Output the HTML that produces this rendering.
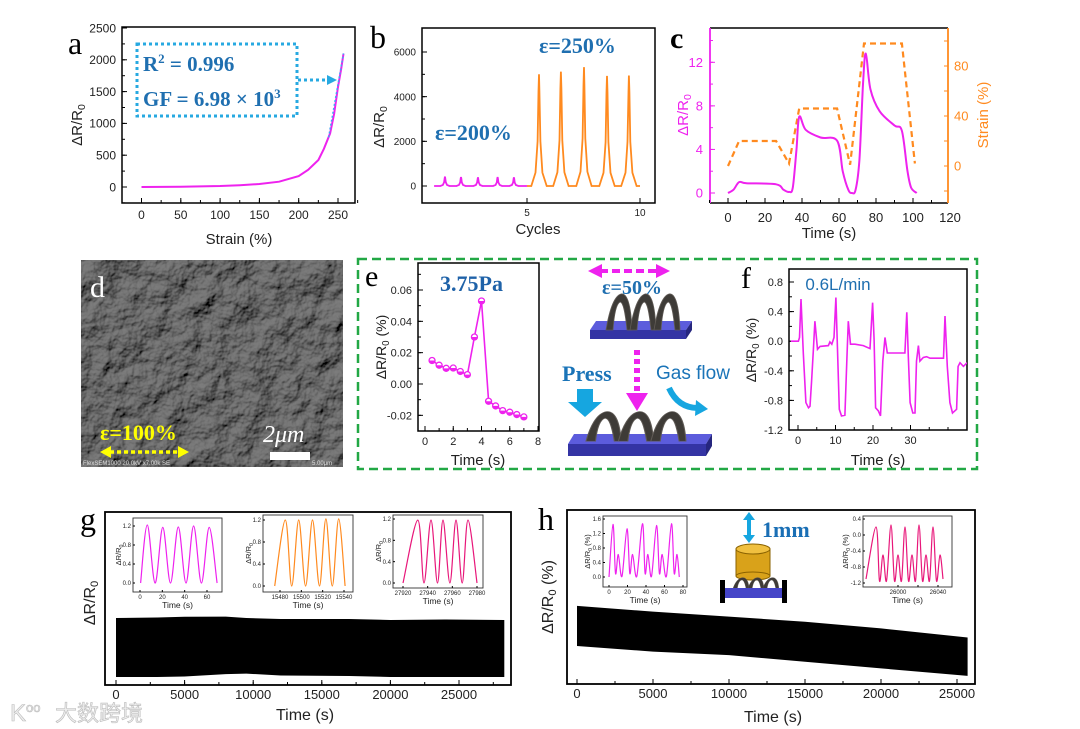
<!DOCTYPE html>
<html><head><meta charset="utf-8"><style>
html,body{margin:0;padding:0;background:#fff;}
svg{display:block;font-family:"Liberation Sans",sans-serif;}
.serif{font-family:"Liberation Serif",serif;}
</style></head><body>
<svg id="fig" width="1080" height="729" viewBox="0 0 1080 729" xmlns="http://www.w3.org/2000/svg">
<defs>
<filter id="sem" x="0" y="0" width="100%" height="100%">
<feTurbulence type="fractalNoise" baseFrequency="0.045" numOctaves="4" seed="3" result="n"/>
<feDiffuseLighting in="n" surfaceScale="7" lighting-color="#7c7c7c" result="l"><feDistantLight azimuth="235" elevation="45"/></feDiffuseLighting>
<feComposite in="l" in2="SourceGraphic" operator="in"/>
</filter>
<g id="flakes">
<path d="M0,38 C3,20 8,4 15,2 C21,1 25,12 26,38 L21,38 C19,18 17,10 14,10 C10,12 8,24 7,38 Z" fill="#3e3b37" stroke="#5f5a55" stroke-width="0.8"/>
<path d="M24,38 C27,20 32,4 39,2 C45,1 49,12 50,38 L45,38 C43,18 41,10 38,10 C34,12 32,24 31,38 Z" fill="#3e3b37" stroke="#5f5a55" stroke-width="0.8"/>
<path d="M48,38 C51,20 56,4 63,2 C69,1 73,12 74,38 L69,38 C67,18 65,10 62,10 C58,12 56,24 55,38 Z" fill="#3e3b37" stroke="#5f5a55" stroke-width="0.8"/>
</g>
</defs>

<text class="serif" x="68" y="54" font-size="32">a</text>
<text class="serif" x="370" y="48" font-size="32">b</text>
<text class="serif" x="670" y="48" font-size="30" font-weight="bold">c</text>
<text class="serif" x="365" y="286" font-size="30">e</text>
<text class="serif" x="741" y="288" font-size="30">f</text>
<text class="serif" x="80" y="530" font-size="32">g</text>
<text class="serif" x="538" y="530" font-size="32">h</text>

<rect x="137" y="44" width="160" height="72" fill="none" stroke="#27a9e1" stroke-width="3" stroke-dasharray="3,3"/>
<text class="serif" x="143" y="71" font-size="21" font-weight="bold" fill="#1f6fb0">R<tspan font-size="13" dy="-8">2</tspan><tspan dy="8"> = 0.996</tspan></text>
<text class="serif" x="143" y="106" font-size="21" font-weight="bold" fill="#1f6fb0">GF = 6.98 × 10<tspan font-size="13" dy="-8">3</tspan></text>
<line x1="298" y1="80" x2="328" y2="80" stroke="#27a9e1" stroke-width="3" stroke-dasharray="3,3"/>
<polygon points="327,75 337,80 327,85" fill="#27a9e1"/>

<text class="serif" x="435" y="140" font-size="22" font-weight="bold" fill="#1f6fb0">ε=200%</text>
<text class="serif" x="539" y="53" font-size="22" font-weight="bold" fill="#1f6fb0">ε=250%</text>

<g>
<rect x="81" y="260" width="262" height="207" fill="#555"/>
<rect x="81" y="260" width="262" height="207" fill="#fff" filter="url(#sem)"/>
<text class="serif" x="90" y="297" font-size="30" fill="#fff">d</text>
<text class="serif" x="100" y="440" font-size="22" font-weight="bold" fill="#ffff00">ε=100%</text>
<line x1="110" y1="452" x2="180" y2="452" stroke="#ffff00" stroke-width="3.5" stroke-dasharray="4,3"/>
<polygon points="100,452 111,446 111,458" fill="#ffff00"/>
<polygon points="189,452 178,446 178,458" fill="#ffff00"/>
<text class="serif" x="263" y="442" font-size="24" font-style="italic" fill="#fff">2μm</text>
<rect x="270" y="452" width="40" height="8" fill="#fff"/>
<text x="83" y="465" font-size="6" fill="#ddd">FlexSEM1000 20.0kV x7.00k SE</text>
<text x="312" y="465" font-size="6" fill="#ddd">5.00μm</text>
</g>

<rect x="358" y="259" width="619" height="210" fill="none" stroke="#22a845" stroke-width="2.5" stroke-dasharray="9,5"/>

<text class="serif" x="440" y="291" font-size="22" font-weight="bold" fill="#1f62a8">3.75Pa</text>

<g>
<line x1="600" y1="271" x2="658" y2="271" stroke="#ee22ee" stroke-width="4" stroke-dasharray="8,4"/>
<polygon points="588,271 602,264 602,278" fill="#ee22ee"/>
<polygon points="670,271 656,264 656,278" fill="#ee22ee"/>
<polygon points="596,321 692,321 686,330 590,330" fill="#5c5cdc"/>
<rect x="590" y="330" width="96" height="9" fill="#3434a4"/>
<polygon points="686,330 692,321 692,330 686,339" fill="#26267e"/>
<use href="#flakes" transform="translate(606,292)"/>
<text class="serif" x="602" y="294" font-size="20" font-weight="bold" fill="#1f6fb0">ε=50%</text>
<line x1="637" y1="350" x2="637" y2="393" stroke="#ee22ee" stroke-width="6" stroke-dasharray="5,4"/>
<polygon points="626,393 648,393 637,411" fill="#ee22ee"/>
<text class="serif" x="562" y="381" font-size="22" font-weight="bold" fill="#1a74b8">Press</text>
<polygon points="577,389 593,389 593,402 602,402 585,417 568,402 577,402" fill="#16a6e0"/>
<text x="656" y="379" font-size="19" fill="#1a74b8">Gas flow</text>
<path d="M669,388 Q678,408 698,408" fill="none" stroke="#16a6e0" stroke-width="6"/>
<polygon points="696,400 708,409 695,416" fill="#16a6e0"/>
<polygon points="574,434 712,434 706,444 568,444" fill="#5c5cdc"/>
<rect x="568" y="444" width="138" height="12" fill="#3434a4"/>
<polygon points="706,444 712,434 712,446 706,456" fill="#26267e"/>
<use href="#flakes" transform="translate(586,410) scale(1.35,0.82)"/>
</g>

<text x="838" y="290" font-size="17" fill="#1f6fb0" text-anchor="middle">0.6L/min</text>

<g>
<polygon points="749,512 755,520 751,520 751,535 755,535 749,543 743,535 747,535 747,520 743,520" fill="#16a6e0"/>
<text class="serif" x="762" y="537" font-size="22" font-weight="bold" fill="#1a6fb5">1mm</text>
<rect x="736" y="549" width="34" height="27" fill="#d9a21a" stroke="#8a6200" stroke-width="1"/>
<ellipse cx="753" cy="576" rx="17" ry="4" fill="#d9a21a" stroke="#8a6200" stroke-width="1"/>
<ellipse cx="753" cy="549" rx="17" ry="5" fill="#f0c040" stroke="#8a6200" stroke-width="1"/>
<use href="#flakes" transform="translate(733,577) scale(0.62,0.3)"/>
<rect x="725" y="588" width="58" height="10" fill="#4545c8"/>
<rect x="720" y="580" width="5" height="23" fill="#000"/>
<rect x="782" y="580" width="5" height="23" fill="#000"/>
</g>

<g>
<text x="10" y="721" font-size="24" fill="#eee" stroke="#bbb" stroke-width="0.6">K<tspan font-size="13" dy="-9">oo</tspan></text>
<text x="55" y="721" font-size="22" fill="#eee" stroke="#bbb" stroke-width="0.6" font-family="'Liberation Sans','Noto Sans CJK SC',sans-serif">大数跨境</text>
</g>
</svg>

<script>
// ---------- DATA ----------
const aStrain = [0,50,100,125,150,175,200,212,225,232,240,245,250,254,257];
const aResp   = [0,4,16,28,47,84,172,270,424,600,842,1150,1574,1850,2097];
const aFitX = [238,257];
const aFitY = [780,2100];
const aXTicks = [0,50,100,150,200,250];
const aYTicks = [0,500,1000,1500,2000,2500];
const bMagRange = [0.89,5.0];
const bMagCycles = [1.37,2.08,2.83,3.7,4.42];
const bMagPeaks = [420,400,390,400,390];
const bOrRange = [5.0,10.0];
const bOrCycles = [5.53,6.5,7.52,8.54,9.51];
const bOrPeaks = [5000,5120,5320,4930,4950];
const bXTicks = [5,10];
const bYTicks = [0,2000,4000,6000];
const cTime = [0,3,6,10,26,30,33,35,37,38.5,42,50,59,62,65,67,69,71,73,74.5,77,82,90,94,97,99,102];
const cResp = [0,0.3,1.0,0.9,0.8,0.3,0.1,0.5,4,7,5.8,5.1,4.8,2,0.3,0,0.3,3,10,12.8,9.5,7.5,6.2,5.7,2,0.5,0];
const cStrainT = [0,6,26,33,38.5,59,66,73.5,94,101];
const cStrain  = [0,20,20,2,46,46,1,98,98,2];
const cXTicks = [0,20,40,60,80,100,120];
const cYTicksL = [0,4,8,12];
const cYTicksR = [0,40,80];
const eTime = [0.5,1,1.5,2,2.5,3,3.5,4,4.5,5,5.5,6,6.5,7];
const eResp = [0.015,0.012,0.010,0.0102,0.008,0.006,0.030,0.053,-0.011,-0.014,-0.017,-0.018,-0.0195,-0.021];
const eXTicks = [0,2,4,6,8];
const eYTicks = [-0.02,0,0.02,0.04,0.06];
const eYLabels = ['-0.02','0.00','0.02','0.04','0.06'];
const fTime = [-1.9,0.1,0.4,0.8,1.4,2.1,2.8,3.2,3.6,4.1,4.5,5.2,5.9,8.1,8.5,9.0,9.6,10.1,10.5,11.0,11.6,12.5,13.1,13.4,14.0,15.2,17.4,19.2,19.9,20.3,20.7,21.4,22.0,22.6,23.2,23.8,24.5,28.5,29.0,29.4,29.9,30.6,31.2,31.6,32.1,32.5,33.4,34.3,35.2,38.8,39.2,39.8,40.5,41.2,42.3,42.7,43.2,44.1,45.1];
const fResp = [0.0,0.0,0.05,0.57,-0.16,-0.83,-0.90,-0.88,-0.56,-0.11,0.27,-0.11,-0.07,-0.06,-0.01,-0.04,0.05,0.59,-0.07,-0.92,-1.01,-1.0,-0.16,0.27,-0.04,-0.04,-0.06,-0.1,0.52,0.02,-0.90,-0.94,-1.01,-0.27,0.05,-0.16,-0.16,-0.16,0.39,-0.2,-0.83,-0.97,-0.97,-0.27,-0.06,-0.27,-0.22,-0.21,-0.23,-0.23,0.34,-0.34,-0.83,-0.97,-0.92,-0.34,-0.29,-0.34,-0.29];
const fXTicks = [0,10,20,30];
const fYTicks = [-1.2,-0.8,-0.4,0,0.4,0.8];
const fYLabels = ['-1.2','-0.8','-0.4','0.0','0.4','0.8'];
const gEnvT = [0,3000,5000,8000,9500,12000,17000,20000,24000,28300];
const gEnvMax = [1.22,1.23,1.245,1.25,1.22,1.2,1.2,1.18,1.19,1.18];
const gEnvMin = [0,0,0.01,0.06,0.07,0.03,0.02,0,0,0];
const gXTicks = [0,5000,10000,15000,20000,25000];
const g1T = [0.5,6.5,13.5,20.4,27.3,34.3,41.2,48,55,62,69];
const g1V = [0,1.22,0,1.17,0,1.18,0,1.2,0,1.17,0];
const g2T = [15475,15485,15491,15497.5,15504,15510.5,15517,15523,15529,15535,15541];
const g2V = [0,1.2,0,1.2,0,1.2,0,1.22,0,1.22,0];
const g3T = [27920,27932,27937,27942.7,27948,27952.4,27958,27963,27968,27972.7,27980];
const g3V = [0,1.18,0,1.18,0,1.18,0,1.18,0,1.18,0];
const hEnvT = [0,5000,10000,15000,20000,25700];
const hEnvMax = [1.5,1.29,1.1,0.91,0.66,0.32];
const hEnvMin = [0,-0.21,-0.34,-0.59,-0.84,-1.12];
const hXTicks = [0,5000,10000,15000,20000,25000];
const h1T = [0,4.3,7,10,14,19.5,22.5,25.5,30,36.2,39,42,46,51.4,54.5,57.5,62,67.6,70.5,73.5,76];
const h1V = [0,1.45,0.1,0.62,0.02,1.33,0.1,0.62,0.02,1.47,0.1,0.62,0.02,1.42,0.1,0.62,0.02,1.47,0.1,0.62,0];
const h2T = [25968,25978,25981.5,25985,25988.5,25993,25996.5,26000,26003.5,26007,26010.5,26014,26017.5,26021,26024.5,26028,26031.5,26035,26038.5,26042,26045];
const h2V = [-1.1,0.2,-1.15,-0.5,-1.15,0.25,-1.15,-0.5,-1.15,0.2,-1.15,-0.5,-1.15,0.25,-1.15,-0.5,-1.15,0.2,-1.15,-0.5,-1.1];

// ---------- HELPERS ----------
const NS='http://www.w3.org/2000/svg';
const svg=document.getElementById('fig');
function mk(tag,attrs,parent){const e=document.createElementNS(NS,tag);for(const k in attrs)e.setAttribute(k,attrs[k]);(parent||svg).appendChild(e);return e;}
function lin(d0,d1,r0,r1){return v=>r0+(v-d0)*(r1-r0)/(d1-d0);}
function pts(xs,ys,sx,sy){return xs.map((x,i)=>sx(x).toFixed(1)+','+sy(ys[i]).toFixed(1)).join(' ');}
function txt(x,y,s,attrs,parent){const e=mk('text',Object.assign({x:x,y:y},attrs),parent);e.textContent=s;return e;}
function smooth(xs,ys,sx,sy){
  const P=xs.map((x,i)=>[sx(x),sy(ys[i])]);
  let d='M'+P[0][0].toFixed(1)+','+P[0][1].toFixed(1);
  for(let i=0;i<P.length-1;i++){
    const p0=P[Math.max(0,i-1)],p1=P[i],p2=P[i+1],p3=P[Math.min(P.length-1,i+2)];
    const c1=[p1[0]+(p2[0]-p0[0])/6,p1[1]+(p2[1]-p0[1])/6];
    const c2=[p2[0]-(p3[0]-p1[0])/6,p2[1]-(p3[1]-p1[1])/6];
    d+=' C'+c1[0].toFixed(1)+','+c1[1].toFixed(1)+' '+c2[0].toFixed(1)+','+c2[1].toFixed(1)+' '+p2[0].toFixed(1)+','+p2[1].toFixed(1);
  }
  return d;
}
function peakPath(range,cycles,peaks,w,sx,sy){
  let d='M'+sx(range[0]).toFixed(1)+','+sy(0).toFixed(1);
  cycles.forEach((c,i)=>{
    const h=peaks[i];
    const seg=[[c-w,0],[c-w*0.45,h*0.12],[c-w*0.18,h*0.4],[c-w*0.06,h*0.85],[c,h],[c+w*0.06,h*0.85],[c+w*0.18,h*0.4],[c+w*0.45,h*0.12],[c+w,0]];
    seg.forEach(p=>{d+=' L'+sx(p[0]).toFixed(1)+','+sy(p[1]).toFixed(1);});
  });
  d+=' L'+sx(range[1]).toFixed(1)+','+sy(0).toFixed(1);
  return d;
}
function frame(x0,y0,x1,y1,sw,parent){return mk('rect',{x:x0,y:y0,width:x1-x0,height:y1-y0,fill:'none',stroke:'#000','stroke-width':sw},parent);}
function xTicks(sc,vals,yb,len,parent,color){vals.forEach(v=>{const t=mk('line',{x1:sc(v),x2:sc(v),y1:yb,y2:yb-len,stroke:color||'#000','stroke-width':1},parent);

});}
function yTicks(sc,vals,xb,len,parent,color){vals.forEach(v=>{const t=mk('line',{x1:xb,x2:xb+len,y1:sc(v),y2:sc(v),stroke:color||'#000','stroke-width':1},parent);

});}
function xLabels(sc,vals,labels,y,size,parent,color){vals.forEach((v,i)=>{const t=txt(sc(v),y,labels?labels[i]:String(v),{'font-size':size,'text-anchor':'middle',fill:color||'#222'},parent);

});}
function yLabels(sc,vals,labels,x,size,parent,color,anchor){vals.forEach((v,i)=>{const t=txt(x,sc(v)+size*0.36,labels?labels[i]:String(v),{'font-size':size,'text-anchor':anchor||'end',fill:color||'#222'},parent);

});}
function rotLabel(x,y,html,size,color,parent){const t=mk('text',{x:0,y:0,'font-size':size,fill:color||'#222','text-anchor':'middle',transform:'translate('+x+','+y+') rotate(-90)'},parent);t.innerHTML=html;return t;}
function range(a,b,s){const r=[];for(let v=a;v<=b+1e-9;v+=s)r.push(+v.toFixed(6));return r;}
const DR='ΔR/R<tspan font-size="70%" dy="3">0</tspan>';

// ---------- PANEL A ----------
const ga=mk('g',{});


const xa=lin(0,250,141.5,338), ya=lin(0,2500,187,28);
frame(122,27,355,203,1.5,ga);
xTicks(xa,range(0,275,25),203,3,ga);
xTicks(xa,aXTicks,203,5,ga);
yTicks(ya,range(-250,2500,250),122,3,ga);
yTicks(ya,aYTicks,122,5,ga);
xLabels(xa,aXTicks,null,219,12,ga);
yLabels(ya,aYTicks,null,116,12,ga);
const aCurve=mk('polyline',{points:pts(aStrain,aResp,xa,ya),fill:'none',stroke:'#ee22ee','stroke-width':2},ga);


const aFit=mk('polyline',{points:pts(aFitX,aFitY,xa,ya),fill:'none',stroke:'#3fa9f5','stroke-width':1.5,'stroke-dasharray':'2,2'},ga);


const aXT=txt(239,244,'Strain (%)',{'font-size':15,'text-anchor':'middle',fill:'#222'},ga);


const aYT=rotLabel(82,125,DR,15,'#222',ga);



// ---------- PANEL B ----------
const gb=mk('g',{});


const xb=lin(5,10,527,640), yb=lin(0,6000,186,52);
frame(422,28,655,203,1.5,gb);
xTicks(xb,bXTicks,203,5,gb);
yTicks(yb,range(0,6000,1000),422,3,gb);
yTicks(yb,bYTicks,422,5,gb);
xLabels(xb,bXTicks,null,216,10,gb);
yLabels(yb,bYTicks,null,416,10,gb);
const bMag=mk('path',{d:peakPath(bMagRange,bMagCycles,bMagPeaks,0.2,xb,yb),fill:'none',stroke:'#ee22ee','stroke-width':1.8},gb);


const bOr=mk('path',{d:peakPath(bOrRange,bOrCycles,bOrPeaks,0.34,xb,yb),fill:'none',stroke:'#ff8a1f','stroke-width':1.8},gb);


const bXT=txt(538,234,'Cycles',{'font-size':15,'text-anchor':'middle',fill:'#222'},gb);


const bYT=rotLabel(384,127,DR,15,'#222',gb);



// ---------- PANEL C ----------
const gc=mk('g',{});


const xc=lin(0,120,728,950), ycL=lin(0,12,193,62.3), ycR=lin(0,80,166,66);
mk('line',{x1:710,y1:203,x2:948,y2:203,stroke:'#000','stroke-width':1.5},gc);
mk('line',{x1:710,y1:28,x2:948,y2:28,stroke:'#000','stroke-width':1.5},gc);
mk('line',{x1:710,y1:28,x2:710,y2:203,stroke:'#ee22ee','stroke-width':1.8},gc);
mk('line',{x1:948,y1:28,x2:948,y2:203,stroke:'#ff8a1f','stroke-width':1.8},gc);
xTicks(xc,range(-10,110,10),203,3,gc);
xTicks(xc,cXTicks.slice(0,6),203,5,gc);
yTicks(ycL,range(0,14,2),710,3,gc,'#ee22ee');
yTicks(ycL,cYTicksL,710,5,gc,'#ee22ee');
yTicks(ycR,range(-20,100,20),948,-4,gc,'#ff8a1f');
xLabels(xc,cXTicks,null,222,13,gc);
yLabels(ycL,cYTicksL,null,703,13,gc,'#ee22ee');
yLabels(ycR,cYTicksR,null,954,13,gc,'#ff8a1f','start');
const cS=mk('polyline',{points:pts(cStrainT,cStrain,xc,ycR),fill:'none',stroke:'#ff8a1f','stroke-width':2.2,'stroke-dasharray':'6,4'},gc);


const cR=mk('path',{d:smooth(cTime,cResp,xc,ycL),fill:'none',stroke:'#ee22ee','stroke-width':2},gc);


const cXT=txt(829,238,'Time (s)',{'font-size':15,'text-anchor':'middle',fill:'#222'},gc);


const cYT=rotLabel(688,115,DR,15,'#ee22ee',gc);


const cYR=rotLabel(988,115,'Strain (%)',15,'#ff8a1f',gc);



// ---------- PANEL E ----------
const ge=mk('g',{});


const xe=lin(0,8,425,538), ye=lin(0,0.06,384,290);
frame(418,263,539,431,1.5,ge);
xTicks(xe,range(0,8,1),431,3,ge);
xTicks(xe,eXTicks,431,5,ge);
yTicks(ye,range(-0.03,0.07,0.01),418,3,ge);
yTicks(ye,eYTicks,418,5,ge);
xLabels(xe,eXTicks,null,445,11,ge);
yLabels(ye,eYTicks,eYLabels,412,11,ge);
const eL=mk('polyline',{points:pts(eTime,eResp,xe,ye),fill:'none',stroke:'#ee22ee','stroke-width':1.6},ge);


eTime.forEach((t,i)=>{
  const c=mk('circle',{cx:xe(t),cy:ye(eResp[i]),r:3,fill:'#fff',stroke:'#ee22ee','stroke-width':1.3},ge);
  
  
  const hcap=mk('path',{d:'M'+(xe(t)-3)+','+ye(eResp[i])+' a3,3 0 0,0 6,0 z',fill:'#ee22ee'},ge);
  
  
});
const eXT=txt(478,465,'Time (s)',{'font-size':15,'text-anchor':'middle',fill:'#222'},ge);


const eYT=rotLabel(386,347,'ΔR/R<tspan font-size="70%" dy="3">0</tspan><tspan dy="-3"> (%)</tspan>',14,'#222',ge);



// ---------- PANEL F ----------
const gf=mk('g',{});


const xf=lin(0,30,798,910.5), yf=lin(0,0.8,341.2,282);
frame(789,269,967,430,1.5,gf);
xTicks(xf,range(0,40,5),430,3,gf);
xTicks(xf,fXTicks,430,5,gf);
yTicks(yf,range(-1.2,0.8,0.2),789,3,gf);
yTicks(yf,fYTicks,789,5,gf);
xLabels(xf,fXTicks,null,444,11,gf);
yLabels(yf,fYTicks,fYLabels,783,11,gf);
const fClip=mk('clipPath',{id:'fclip'},gf);
mk('rect',{x:789,y:269,width:178,height:161},fClip);
const fL=mk('polyline',{points:pts(fTime,fResp,xf,yf),fill:'none',stroke:'#ee22ee','stroke-width':1.6,'clip-path':'url(#fclip)'},gf);


const fXT=txt(878,465,'Time (s)',{'font-size':15,'text-anchor':'middle',fill:'#222'},gf);


const fYT=rotLabel(756,350,'ΔR/R<tspan font-size="70%" dy="3">0</tspan><tspan dy="-3"> (%)</tspan>',14,'#222',gf);



// ---------- PANEL G ----------
const gg=mk('g',{});


const xg=lin(0,25000,116,459), yg=lin(0,1.2,677,619);
frame(105,512,511,685,1.8,gg);
xTicks(xg,range(0,27500,2500),685,3,gg);
xTicks(xg,gXTicks,685,5,gg);
xLabels(xg,gXTicks,null,699,13,gg);
const gBand=mk('polygon',{points:pts(gEnvT.concat(gEnvT.slice().reverse()),gEnvMax.concat(gEnvMin.slice().reverse()),xg,yg),fill:'#000'},gg);


const gXT=txt(305,720,'Time (s)',{'font-size':16,'text-anchor':'middle',fill:'#222'},gg);


const gYT=rotLabel(95,603,DR,16,'#222',gg);



let clipN=0;
function inset(name,box,sx,sy,T,V,color,xt,xl,yt,yl,ylab,parent){
  const g=mk('g',{},parent);
  
  
  mk('rect',{x:box[0],y:box[1],width:box[2]-box[0],height:box[3]-box[1],fill:'#fff',stroke:'#333','stroke-width':0.9},g);
  const cid='ic'+(clipN++);
  const cp=mk('clipPath',{id:cid},g);
  mk('rect',{x:box[0],y:box[1],width:box[2]-box[0],height:box[3]-box[1]},cp);
  xTicks(sx,xt,box[3],2,g);
  yTicks(sy,yt,box[0],2,g);
  xLabels(sx,xt,xl,box[3]+7,6,g);
  yLabels(sy,yt,yl,box[0]-2,6,g);
  const p=mk('path',{d:smooth(T,V,sx,sy),fill:'none',stroke:color,'stroke-width':1.2,'clip-path':'url(#'+cid+')'},g);
  
  
  const tt=txt((box[0]+box[2])/2,box[3]+16,'Time (s)',{'font-size':8.5,'text-anchor':'middle',fill:'#222'},g);
  
  
  const yt2=rotLabel(box[0]+(ylab[1]||10),(box[1]+box[3])/2,ylab[0],7.5,'#222',g);
  
  
}
const DRs='ΔR/R<tspan font-size="70%" dy="2">0</tspan>';
const DRp='ΔR/R<tspan font-size="70%" dy="2">0</tspan><tspan dy="-2"> (%)</tspan>';
inset('inset-g-start',[133,518,222,592],lin(0,60,140,207),lin(0,1.2,583,526),g1T,g1V,'#ee22ee',[0,20,40,60],null,[0,0.4,0.8,1.2],['0.0','0.4','0.8','1.2'],[DRs,-12],gg);
inset('inset-g-middle',[263,515,353,592],lin(15480,15540,280,344),lin(0,1.2,586,520),g2T,g2V,'#ff8a1f',[15480,15500,15520,15540],null,[0,0.4,0.8,1.2],['0.0','0.4','0.8','1.2'],[DRs,-12],gg);
inset('inset-g-end',[393,515,483,588],lin(27920,27980,403,477),lin(0,1.2,583,519),g3T,g3V,'#e8177a',[27920,27940,27960,27980],null,[0,0.4,0.8,1.2],['0.0','0.4','0.8','1.2'],[DRs,-12],gg);

// ---------- PANEL H ----------
const gh=mk('g',{});


const xh=lin(0,25000,577,957), yh=lin(0,1,646,619.3);
frame(567,510,975,684,1.8,gh);
xTicks(xh,range(0,25000,2500),684,3,gh);
xTicks(xh,hXTicks,684,5,gh);
xLabels(xh,hXTicks,null,698,13,gh);
const hBand=mk('polygon',{points:pts(hEnvT.concat(hEnvT.slice().reverse()),hEnvMax.concat(hEnvMin.slice().reverse()),xh,yh),fill:'#000'},gh);


const hXT=txt(773,722,'Time (s)',{'font-size':16,'text-anchor':'middle',fill:'#222'},gh);


const hYT=rotLabel(553,597,'ΔR/R<tspan font-size="70%" dy="3">0</tspan><tspan dy="-3"> (%)</tspan>',16,'#222',gh);


inset('inset-h-start',[603,516,687,587],lin(0,80,609,683),lin(0,1.6,577,519),h1T,h1V,'#ee22ee',[0,20,40,60,80],null,[0,0.4,0.8,1.2,1.6],['0.0','0.4','0.8','1.2','1.6'],[DRp,-13],gh);
inset('inset-h-end',[863,516,952,587],lin(26000,26040,898,938),lin(0.4,-1.2,519,583),h2T,h2V,'#e8177a',[26000,26020,26040],['26000','','26040'],[-1.2,-0.8,-0.4,0,0.4],['-1.2','-0.8','-0.4','0.0','0.4'],[DRp,-15],gh);
</script>
</body></html>
